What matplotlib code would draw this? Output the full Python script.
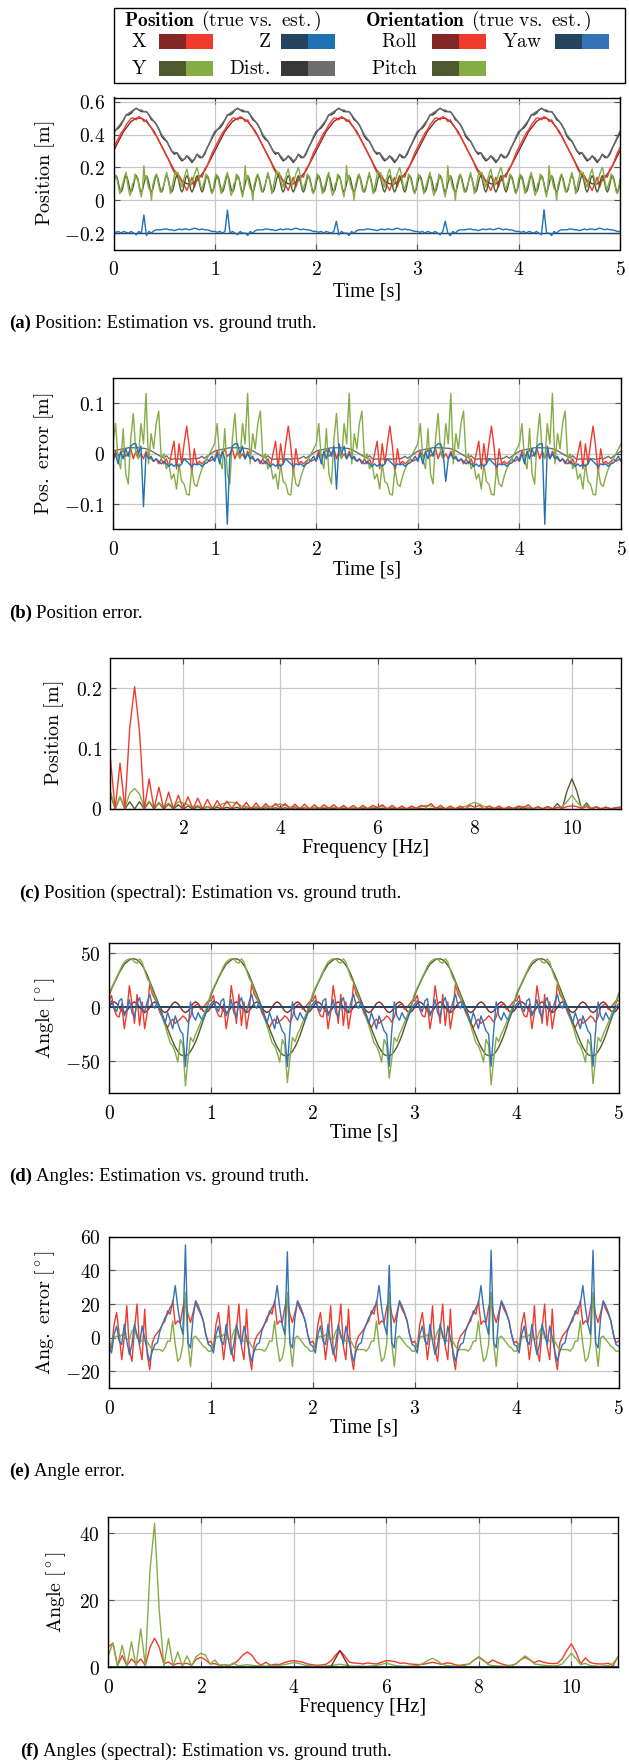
import numpy as np
import matplotlib
matplotlib.use("Agg")
import matplotlib.pyplot as plt
from matplotlib.patches import Rectangle
from matplotlib.ticker import MultipleLocator, FuncFormatter

plt.rcParams['mathtext.fontset'] = 'cm'
plt.rcParams['font.family'] = ['DejaVu Sans']

# ------------------------------------------------------------------ data
# sampling of the time series (s)
DT = 0.025
DT_FINE = 0.0125
N_CYCLES = 5

# ---- (a) position, one 1-s cycle read at 0.025 s
x_true_cycle = [0.30,0.33,0.36,0.39,0.42,0.44,0.46,0.48,0.49,0.50,0.50,0.50,0.49,0.48,0.46,0.44,0.42,0.39,0.36,0.33,
                0.30,0.27,0.24,0.21,0.18,0.16,0.14,0.12,0.11,0.10,0.10,0.10,0.11,0.12,0.14,0.16,0.18,0.21,0.24,0.27]
x_est_cycle = [0.32,0.35,0.38,0.41,0.43,0.46,0.48,0.50,0.50,0.49,0.51,0.50,0.48,0.49,0.46,0.44,0.41,0.39,0.36,0.33,
               0.30,0.27,0.24,0.20,0.17,0.15,0.15,0.11,0.09,0.06,0.10,0.14,0.08,0.13,0.15,0.14,0.19,0.21,0.25,0.29]
# Y true: one 0.1-s ripple read at 0.0125 s
y_true_cycle = [0.10,0.135,0.15,0.135,0.10,0.065,0.05,0.065]
# Y estimate: one 1-s cycle read at 0.0125 s
y_est_cycle = [0.13,0.16,0.14,0.12,0.08,0.04,0.07,0.09,
               0.12,0.15,0.17,0.11,0.06,0.03,0.05,0.10,
               0.11,0.16,0.13,0.14,0.09,0.05,0.02,0.08,
               0.21,0.12,0.15,0.10,0.07,0.06,0.00,0.09,
               0.12,0.15,0.16,0.12,0.08,0.05,0.06,0.08,
               0.10,0.14,0.17,0.13,0.09,0.04,0.07,0.11,
               0.15,0.18,0.16,0.17,0.12,0.10,0.08,0.12,
               0.14,0.17,0.19,0.15,0.13,0.09,0.11,0.13,
               0.16,0.18,0.20,0.17,0.12,0.08,0.07,0.10,
               0.12,0.16,0.15,0.12,0.09,0.05,0.04,0.08]
z_true_level = -0.2
z_est_cycle = [-0.19,-0.195,-0.19,-0.20,-0.19,-0.195,-0.20,-0.19,-0.20,-0.21,-0.19,-0.20,-0.20,-0.215,-0.19,-0.20,
               -0.185,-0.18,-0.18,-0.18,-0.175,-0.175,-0.18,-0.18,-0.185,-0.18,-0.175,-0.18,-0.175,-0.175,-0.18,
               -0.175,-0.17,-0.175,-0.18,-0.175,-0.18,-0.18,-0.185,-0.19]
z_spike_t = [0.30, 1.125, 2.20, 3.275, 4.25]
z_spike_v = [-0.09, -0.06, -0.128, -0.128, -0.057]
dist_true_cycle = [0.41,0.43,0.44,0.46,0.49,0.52,0.52,0.53,0.55,0.56,0.55,0.54,0.54,0.54,0.52,0.49,0.48,0.46,0.43,0.39,
                   0.37,0.36,0.33,0.30,0.28,0.29,0.26,0.24,0.25,0.27,0.25,0.23,0.25,0.28,0.26,0.26,0.28,0.32,0.35,0.38]
dist_est_cycle = [0.42,0.43,0.45,0.47,0.49,0.52,0.53,0.54,0.55,0.56,0.55,0.55,0.54,0.54,0.52,0.50,0.48,0.46,0.43,0.40,
                  0.38,0.36,0.33,0.30,0.29,0.29,0.27,0.25,0.25,0.27,0.26,0.24,0.25,0.28,0.27,0.26,0.29,0.32,0.35,0.39]

# ---- (b) position error, one 1-s cycle read at 0.025 s
ex_cycle = [-0.010,0.005,-0.005,0.000,0.008,-0.005,0.000,0.010,-0.010,0.005,-0.008,0.000,-0.010,0.005,-0.005,-0.010,
            -0.015,-0.010,-0.020,-0.010,-0.020,-0.010,-0.025,0.000,0.025,-0.030,0.020,-0.020,0.020,0.055,0.015,-0.040,
            0.010,-0.020,-0.015,-0.020,-0.015,-0.010,-0.015,-0.012]
ey_cycle = [0.02,0.06,-0.01,-0.03,0.05,-0.04,-0.06,0.03,0.08,0.0,-0.01,0.06,0.02,0.12,-0.02,0.04,0.01,0.06,0.085,-0.01,
            0.0,-0.03,-0.02,-0.05,-0.04,-0.07,-0.02,-0.055,-0.06,-0.08,-0.082,-0.03,-0.06,-0.065,-0.045,-0.03,-0.02,
            -0.01,0.0,0.01]
ez_cycle = [-0.015,0.0,-0.02,0.005,-0.01,0.01,-0.005,0.015,0.02,0.02,0.0,0.015,-0.01,0.0,-0.01,-0.005,-0.015,-0.01,
            -0.015,-0.02,-0.015,-0.02,-0.025,-0.02,-0.025,-0.02,-0.025,-0.02,-0.01,-0.015,-0.02,-0.025,-0.02,-0.022,
            -0.02,-0.025,-0.02,-0.018,-0.012,-0.005]
ez_spike_t = [0.30, 1.125, 2.20, 3.275, 4.25]
ez_spike_v = [-0.105, -0.14, -0.07, -0.055, -0.14]
ed_cycle = [0.005,0.007,0.008,0.009,0.010,0.011,0.012,0.012,0.012,0.012,0.012,0.011,0.011,0.010,0.008,0.006,0.003,
            0.000,-0.003,-0.006,-0.008,-0.004,-0.009,-0.011,-0.010,-0.011,-0.010,-0.011,-0.010,-0.010,-0.011,-0.010,
            -0.009,-0.010,-0.008,-0.005,-0.009,-0.005,-0.002,0.002]

# ---- (c) position spectra, 0.5 ... 11 Hz in 0.1 Hz steps
freq_pos = np.round(0.5 + 0.1 * np.arange(106), 1)
spec_x_est = [0.085,0.0,0.076,0.0,0.135,0.203,0.13,0.0,0.05,0.0,
              0.036,0.0,0.028,0.0,0.023,0.0,0.02,0.0,0.018,0.0,
              0.016,0.0,0.014,0.0,0.013,0.001,0.012,0.0,0.011,0.0,
              0.01,0.0,0.009,0.0,0.009,0.001,0.009,0.0,0.008,0.0,
              0.008,0.0,0.007,0.0,0.007,0.001,0.007,0.0,0.006,0.0,
              0.006,0.0,0.006,0.0,0.006,0.002,0.007,0.0,0.006,0.0,
              0.005,0.0,0.005,0.001,0.006,0.003,0.009,0.001,0.006,0.0,
              0.005,0.0,0.005,0.0,0.006,0.003,0.006,0.0,0.005,0.0,
              0.005,0.0,0.004,0.0,0.005,0.002,0.007,0.0,0.004,0.0,
              0.004,0.0,0.003,0.001,0.004,0.005,0.004,0.001,0.004,0.0,
              0.003,0.0,0.003,0.0,0.002,0.003]
spec_y_est = [0.03,0.0,0.02,0.002,0.026,0.034,0.025,0.003,0.013,0.002,
              0.011,0.003,0.01,0.003,0.012,0.01,0.007,0.003,0.006,0.002,
              0.004,0.002,0.005,0.008,0.011,0.011,0.01,0.005,0.004,0.002,
              0.004,0.002,0.005,0.004,0.007,0.008,0.006,0.003,0.004,0.002,
              0.003,0.001,0.003,0.002,0.003,0.002,0.003,0.001,0.003,0.001,
              0.002,0.001,0.003,0.001,0.003,0.003,0.004,0.001,0.003,0.001,
              0.002,0.001,0.002,0.002,0.004,0.006,0.005,0.002,0.003,0.001,
              0.002,0.001,0.003,0.004,0.008,0.011,0.008,0.004,0.004,0.002,
              0.003,0.001,0.002,0.002,0.004,0.004,0.003,0.001,0.002,0.001,
              0.002,0.001,0.002,0.004,0.012,0.023,0.012,0.003,0.006,0.002,
              0.003,0.001,0.002,0.001,0.002,0.003]
spec_y_true = [0.025,0.0,0.02,0.0,0.012,0.0,0.012,0.0,0.012,0.0,
               0.01,0.0,0.008,0.0,0.007,0.0,0.005,0.0,0.004,0.0,
               0.004,0.0,0.003,0.0,0.003,0.0,0.003,0.0,0.002,0.0,
               0.002,0.0,0.002,0.0,0.002,0.0,0.002,0.0,0.002,0.0,
               0.002,0.0,0.002,0.0,0.001,0.0,0.001,0.0,0.001,0.0,
               0.001,0.0,0.001,0.0,0.001,0.0,0.001,0.0,0.001,0.0,
               0.001,0.0,0.001,0.0,0.001,0.0,0.001,0.0,0.001,0.0,
               0.001,0.0,0.001,0.0,0.001,0.0,0.001,0.0,0.001,0.0,
               0.001,0.0,0.001,0.0,0.002,0.0,0.002,0.0,0.003,0.0,
               0.004,0.0,0.009,0.0,0.03,0.05,0.03,0.0,0.01,0.0,
               0.004,0.0,0.003,0.0,0.002,0.002]

# ---- (d) angles
roll_true_cycle = [0.0,3.5,5.0,3.5,0.0,-3.5,-5.0,-3.5]          # 0.2-s cycle at 0.025 s
roll_est_cycle = [6,11,-2,-8,-9,3,-20,-5,20,4,-15,12,-17,5,-20,-5,22,12,8,2,
                  -5,-10,-15,-19,-14,-11,-15,-13,-11,-8,-10,-14,-9,0,2,3,-2,0,3,6]
pitch_true_cycle = [11,17,22,27,32,36,40,42,44,45,45,44,42,39,35,30,24,18,12,6,
                    0,-7,-14,-20,-26,-32,-37,-41,-44,-45,-45,-44,-41,-37,-32,-26,-19,-12,-4,4]
pitch_est_cycle = [13,18,23,28,33,38,42,44,45,45,42,41,45,42,34,27,23,15,10,2,
                   -2,-10,-17,-25,-33,-36,-42,-51,-30,-35,-72,-48,-28,-32,-25,-20,-14,-8,-2,5]
pitch_dip_t = [0.75, 1.75, 2.75, 3.75, 4.75]
pitch_dip_v = [-73, -70, -66, -72, -71]
yaw_true_level = 0.0
yaw_est_cycle = [3,6,0,-4,6,8,-8,-2,7,-5,-9,4,9,-2,-4,5,12,2,-1,6,
                 -3,-8,-15,-5,-12,-20,-8,-15,-22,-25,-55,-22,5,-8,-12,-5,-10,-12,-6,0]

# ---- (e) angle errors
eroll_cycle = [-2,-6,8,15,2,-13,0,19,-7,-14,5,20,-5,-13,17,-10,-19,-3,1,3,
               5,8,10,16,14,22,8,10,9,18,23,14,9,15,21,17,14,10,2,-3]
epitch_cycle = [-8,-3,0,1,0,2,1,-1,-1,4,6,0,-1,-2,-2,-2,-5,-7,-7,-7,
                -7,-8,-6,-2,-2,10,-4,-14,-12,-4,27,-3,-17,0,1,-1,-3,-5,-6,-8]
eyaw_cycle = [-5,-9,2,7,-2,-4,8,-2,-10,-4,8,2,-4,7,0,-8,-14,-8,-4,-3,
              4,8,12,14,18,20,31,18,8,2,55,-3,-6,12,22,19,15,10,2,-4]
eyaw_peak_t = [0.75, 1.75, 2.75, 3.75, 4.75]
eyaw_peak_v = [55, 51, 43, 52, 52]

# ---- (f) angle spectra, 0 ... 11 Hz in 0.1 Hz steps
freq_ang = np.round(0.1 * np.arange(111), 1)
spec_pitch_est = [3.5,7.3,0.3,6.6,0.3,7.6,0.3,11.5,0.5,29.0,
                  43.0,17.0,0.3,8.6,0.3,4.6,0.3,3.4,0.5,3.2,
                  4.2,3.6,1.0,2.2,0.5,0.8,0.4,1.3,0.5,0.6,
                  0.8,0.6,0.4,0.5,0.3,0.5,0.4,0.6,0.8,1.1,
                  1.4,1.2,0.8,0.5,0.4,0.3,0.3,0.4,0.5,0.7,
                  0.9,0.7,0.4,0.3,0.4,0.3,0.3,0.4,0.6,0.9,
                  1.2,0.9,0.5,0.4,0.3,0.3,0.4,0.6,1.2,2.0,
                  2.7,2.0,1.0,0.5,0.4,0.3,0.4,0.6,1.0,2.2,
                  3.2,2.2,0.8,0.5,0.4,0.3,0.4,0.6,1.0,2.2,
                  3.4,2.4,1.0,0.8,0.6,0.5,0.4,0.5,1.0,2.6,
                  4.2,2.6,0.8,1.2,0.5,0.4,0.3,0.4,0.5,1.2,
                  3.0]
spec_roll_est = [6.1,7.2,0.5,3.5,0.5,2.5,1.0,2.5,0.5,6.0,
                 8.7,6.0,1.0,1.6,0.6,1.2,1.0,1.2,0.6,2.4,
                 3.0,2.2,1.0,1.1,0.6,0.8,0.6,1.0,2.0,3.6,
                 4.6,3.6,1.6,0.6,1.5,0.6,0.9,0.8,1.4,1.8,
                 2.0,1.8,1.5,1.0,0.8,0.6,0.7,0.9,1.8,3.5,
                 5.0,3.5,1.6,1.3,1.2,1.0,1.3,1.1,1.0,1.5,
                 2.0,1.9,1.7,1.2,1.3,1.0,0.9,0.8,0.9,1.2,
                 1.5,1.2,0.9,1.3,1.2,0.7,0.6,0.8,1.0,2.2,
                 3.0,2.0,1.2,2.2,1.5,1.0,0.6,0.5,1.0,2.2,
                 3.0,2.2,1.4,2.0,1.5,1.2,1.1,1.2,2.5,5.0,
                 7.0,4.5,1.0,2.8,1.5,1.1,1.0,1.0,1.2,0.5,
                 3.0]
roll_true_spec_f = [0.0, 4.8, 4.9, 5.0, 5.1, 5.2, 11.0]
roll_true_spec = [0.0, 0.0, 2.5, 5.0, 2.5, 0.0, 0.0]
yaw_true_spec_f = [0.0, 11.0]
yaw_true_spec = [0.0, 0.0]

# ------------------------------------------------------------------ build series
def tile(cycle, reps):
    a = np.asarray(cycle, dtype=float)
    return np.append(np.tile(a, reps), a[0])

def put(arr, times, vals, dt):
    arr = arr.copy()
    arr[np.round(np.asarray(times) / dt).astype(int)] = vals
    return arr

t = np.arange(N_CYCLES * 40 + 1) * DT
t_fine = np.arange(N_CYCLES * 80 + 1) * DT_FINE

x_true = tile(x_true_cycle, N_CYCLES)
x_est = tile(x_est_cycle, N_CYCLES)
y_true = tile(y_true_cycle, N_CYCLES * 10)
y_est = tile(y_est_cycle, N_CYCLES)
z_true = np.full_like(t, z_true_level)
z_est = put(tile(z_est_cycle, N_CYCLES), z_spike_t, z_spike_v, DT)
d_true = tile(dist_true_cycle, N_CYCLES)
d_est = tile(dist_est_cycle, N_CYCLES)

ex = tile(ex_cycle, N_CYCLES)
ey = tile(ey_cycle, N_CYCLES)
ez = put(tile(ez_cycle, N_CYCLES), ez_spike_t, ez_spike_v, DT)
ed = tile(ed_cycle, N_CYCLES)

roll_true = tile(roll_true_cycle, N_CYCLES * 5)
roll_est = tile(roll_est_cycle, N_CYCLES)
pitch_true = tile(pitch_true_cycle, N_CYCLES)
pitch_est = put(tile(pitch_est_cycle, N_CYCLES), pitch_dip_t, pitch_dip_v, DT)
yaw_true = np.full_like(t, yaw_true_level)
yaw_est = tile(yaw_est_cycle, N_CYCLES)

eroll = tile(eroll_cycle, N_CYCLES)
epitch = tile(epitch_cycle, N_CYCLES)
eyaw = put(tile(eyaw_cycle, N_CYCLES), eyaw_peak_t, eyaw_peak_v, DT)

# ------------------------------------------------------------------ style
C_X_T, C_X_E = '#832726', '#ef3b2c'
C_Y_T, C_Y_E = '#4f5b2e', '#84ad45'
C_Z_T, C_Z_E = '#24445f', '#2171b5'
C_D_T, C_D_E = '#383838', '#6d6d6d'
C_YAW_E = '#3473b5'
LW = 1.0
SERIF = ['Liberation Serif', 'DejaVu Serif']
TICK_FS, LAB_FS, LEG_FS, CAP_FS = 14, 14.5, 14, 13.5

W, H = 629, 1762
fig = plt.figure(figsize=(W / 100, H / 100), dpi=100)


def cm(s):
    return r'$\mathrm{' + s.replace(' ', r'\ ') + '}$'


def fmt(v, p):
    if abs(v) < 1e-9:
        v = 0.0
    return '$%s$' % ('%g' % round(v, 6))


def add_ax(l, r, top, bot):
    return fig.add_axes([l / W, 1 - bot / H, (r - l) / W, (bot - top) / H])


def style(ax, xlim, ylim, xstep, ystep, xlabel, ylabel, xlab_y, ylab_x):
    ax.set_xlim(*xlim)
    ax.set_ylim(*ylim)
    ax.xaxis.set_major_locator(MultipleLocator(xstep))
    ax.yaxis.set_major_locator(MultipleLocator(ystep))
    ax.xaxis.set_major_formatter(FuncFormatter(fmt))
    ax.yaxis.set_major_formatter(FuncFormatter(fmt))
    ax.grid(True, color='#c8c8c8', lw=0.9)
    ax.set_axisbelow(True)
    ax.tick_params(direction='in', length=4, width=0.8, color='#505050',
                   top=True, right=True, labelsize=TICK_FS)
    ax.tick_params(axis='x', pad=7.5)
    ax.tick_params(axis='y', pad=6)
    for s in ax.spines.values():
        s.set_linewidth(1.0)
        s.set_color('black')
    ax.set_xlabel(xlabel, fontfamily=SERIF, fontsize=LAB_FS, va='center')
    ax.xaxis.set_label_coords(0.5, xlab_y)
    ax.set_ylabel(cm(ylabel), fontsize=LAB_FS, va='center')
    ax.yaxis.set_label_coords(ylab_x, 0.5)


# (a)
ax = add_ax(113.5, 620, 97.5, 249.5)
ax.plot(t, x_true, color=C_X_T, lw=LW)
ax.plot(t, x_est, color=C_X_E, lw=LW)
ax.plot(t_fine, y_true, color=C_Y_T, lw=LW)
ax.plot(t_fine, y_est, color=C_Y_E, lw=LW)
ax.plot(t, z_true, color=C_Z_T, lw=LW)
ax.plot(t, z_est, color=C_Z_E, lw=LW)
ax.plot(t, d_true, color=C_D_T, lw=LW)
ax.plot(t, d_est, color=C_D_E, lw=LW)
style(ax, (0, 5), (-0.3, 0.626), 1, 0.2, 'Time [s]', 'Position [m]', -0.278, -0.135)

# (b)
ax = add_ax(113, 621, 378.3, 529.3)
ax.plot(t, ed, color=C_D_E, lw=LW)
ax.plot(t, ex, color=C_X_E, lw=LW)
ax.plot(t, ey, color=C_Y_E, lw=LW)
ax.plot(t, ez, color=C_Z_E, lw=LW)
style(ax, (0, 5), (-0.15, 0.15), 1, 0.1, 'Time [s]', 'Pos. error [m]', -0.27, -0.136)

# (c)
ax = add_ax(110.3, 620.5, 658.3, 809)
ax.plot(freq_pos, spec_y_true, color=C_Y_T, lw=LW)
ax.plot(freq_pos, spec_y_est, color=C_Y_E, lw=LW)
ax.plot(freq_pos, spec_x_est, color=C_X_E, lw=LW)
style(ax, (0.5, 11), (0, 0.25), 2, 0.1, 'Frequency [Hz]', 'Position [m]', -0.259, -0.110)

# (d)
ax = add_ax(109, 618.5, 942.7, 1093.3)
ax.plot(t, roll_true, color=C_X_T, lw=LW)
ax.plot(t, roll_est, color=C_X_E, lw=LW)
ax.plot(t, pitch_true, color=C_Y_T, lw=LW)
ax.plot(t, pitch_est, color=C_Y_E, lw=LW)
ax.plot(t, yaw_true, color=C_Z_T, lw=1.4)
ax.plot(t, yaw_est, color=C_YAW_E, lw=LW)
style(ax, (0, 5), (-80, 60), 1, 50, 'Time [s]', r'Angle [^\circ]', -0.264, -0.126)

# (e)
ax = add_ax(109, 618.5, 1236.7, 1388.3)
ax.plot(t, eroll, color=C_X_E, lw=LW)
ax.plot(t, epitch, color=C_Y_E, lw=LW)
ax.plot(t, eyaw, color=C_YAW_E, lw=LW)
style(ax, (0, 5), (-30, 60), 1, 20, 'Time [s]', r'Ang. error [^\circ]', -0.262, -0.126)

# (f)
ax = add_ax(108.3, 617.7, 1516.7, 1667.3)
ax.plot(freq_ang, spec_roll_est, color=C_X_E, lw=LW)
ax.plot(freq_ang, spec_pitch_est, color=C_Y_E, lw=LW)
ax.plot(roll_true_spec_f, roll_true_spec, color=C_X_T, lw=LW)
ax.plot(yaw_true_spec_f, yaw_true_spec, color=C_Z_T, lw=1.4)
style(ax, (0, 11), (0, 45), 2, 20, 'Frequency [Hz]', r'Angle [^\circ]', -0.27, -0.102)

# ------------------------------------------------------------------ overlay: legend + captions
ov = fig.add_axes([0, 0, 1, 1])
ov.set_xlim(0, W)
ov.set_ylim(H, 0)
ov.axis('off')

ov.add_patch(Rectangle((114.2, 8.3), 510.4, 75, fc='white', ec='black', lw=1.0))
t1 = ov.text(123.6, 21, r'$\mathbf{Position}$', fontsize=LEG_FS, va='center', ha='left')
ov.annotate(cm('(true vs. est.)'), xy=(1, 0.5), xycoords=t1, xytext=(4, 0),
            textcoords='offset points', va='center', ha='left', fontsize=LEG_FS)
t2 = ov.text(364.8, 21, r'$\mathbf{Orientation}$', fontsize=LEG_FS, va='center', ha='left')
ov.annotate(cm('(true vs. est.)'), xy=(1, 0.5), xycoords=t2, xytext=(4, 0),
            textcoords='offset points', va='center', ha='left', fontsize=LEG_FS)

legend_items = [
    ('X', 147.5, 159, 41.7, C_X_T, C_X_E),
    ('Z', 270.4, 280.5, 41.7, C_Z_T, C_Z_E),
    ('Roll', 417.8, 432.3, 41.7, C_X_T, C_X_E),
    ('Yaw', 542.0, 554.8, 41.7, C_Z_T, C_YAW_E),
    ('Y', 147.5, 159, 68.3, C_Y_T, C_Y_E),
    ('Dist.', 270.4, 280.5, 68.3, C_D_T, C_D_E),
    ('Pitch', 417.8, 432.3, 68.3, C_Y_T, C_Y_E),
]
BW, BH = 27, 14.5
for lab, xr, xb, yc, c1, c2 in legend_items:
    ov.text(xr, yc, cm(lab), fontsize=LEG_FS, va='center', ha='right')
    ov.add_patch(Rectangle((xb, yc - BH / 2), BW, BH, fc=c1, ec='none'))
    ov.add_patch(Rectangle((xb + BW, yc - BH / 2), BW, BH, fc=c2, ec='none'))

captions = [
    (9, 323, '(a)', 'Position: Estimation vs. ground truth.'),
    (9, 613.3, '(b)', 'Position error.'),
    (19.3, 893, '(c)', 'Position (spectral): Estimation vs. ground truth.'),
    (9, 1176.7, '(d)', 'Angles: Estimation vs. ground truth.'),
    (9, 1471.7, '(e)', 'Angle error.'),
    (20, 1751.7, '(f)', 'Angles (spectral): Estimation vs. ground truth.'),
]
for x0, y0, lab, txt in captions:
    tl = ov.text(x0, y0, lab, fontfamily=SERIF, fontweight='bold', fontsize=CAP_FS,
                 va='center', ha='left')
    ov.annotate(txt, xy=(1, 0.5), xycoords=tl, xytext=(3, 0), textcoords='offset points',
                va='center', ha='left', fontfamily=SERIF, fontsize=CAP_FS)

fig.savefig('out.png', dpi=100)
